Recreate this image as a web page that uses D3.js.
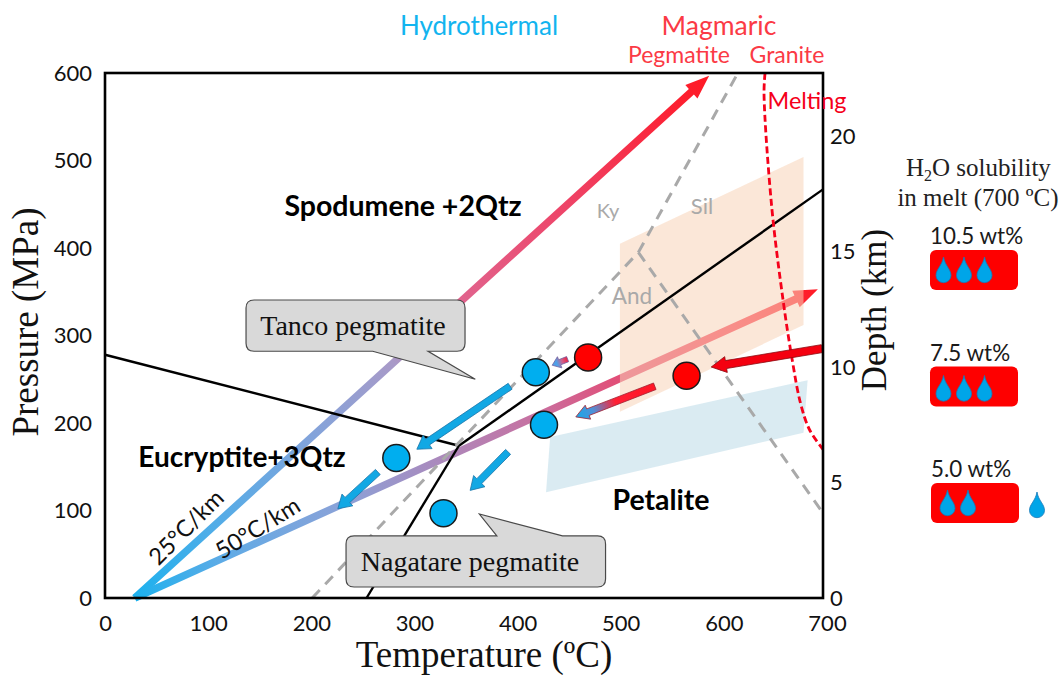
<!DOCTYPE html>
<html><head><meta charset="utf-8">
<script src="https://cdnjs.cloudflare.com/ajax/libs/d3/7.8.5/d3.min.js"></script>
<style>html,body{margin:0;padding:0;background:#fff}svg{display:block}</style>
</head><body><svg id="c" width="1062" height="675"></svg>
<script>
// --- data (temperature ºC, pressure MPa) ---
const tempTicks = [0,100,200,300,400,500,600,700];
const pressTicks = [0,100,200,300,400,500,600];
const depthTicks = [0,5,10,15,20];
const gradient25 = [[29,0],[589,597]];
const gradient50 = [[29,0],[695,353]];
const phaseLeft = [[0,278],[345,174]];
const phaseRight = [[345,174],[700,467]];
const phaseDown = [[345,174],[255,0]];
const kyAnd = [[202,0],[520,395]];
const kySil = [[520,395],[617,600]];
const silAnd = [[520,395],[700,97]];
const melting = [[643.5,600],[642.5,577],[650,447],[661,341],[670,272],[678,223],[687,192],[700,170]];
const orangeZone = [[502,405],[681,504],[681,312],[502,213]];
const blueZone = [[434,184],[685,249],[681,189],[430,121]];
const blueDots = [[420,258],[428,198],[284,160],[330,97]];
const redDots = [[471,275],[567,254]];
const blueArrows = [[[395,242],[304,170]],[[266,144],[227,102]],[[393,167],[356,123]]];
const mixedArrowSmall = [[451,273],[436,266]];
const mixedArrowLarge = [[536,242],[459,207]];
const redArrow = [[699,285],[591,264]];
const tancoBox = [137.5,351,340.6,282], tancoPointer = [[261,282],[361,250],[315,282]];
const nagaBox = [235,488,71,12.6], nagaPointer = [[382,71],[365,96],[446,71]];
const solubility = ["10.5 wt%","7.5 wt%","5.0 wt%"];
const dropsInMelt = [3,3,2];
const dropsOut = [0,0,1];

const svg = d3.select("#c");
const L=105,R=823,T=73,B=598;
const x = d3.scaleLinear().domain([0,700]).range([L,R]);
const y = d3.scaleLinear().domain([0,600]).range([B,T]);
const xLabel = d3.scaleLinear().domain([0,700]).range([L,827]);
const yDepth = d3.scaleLinear().domain([0,22.73]).range([B,T]);
const SANS = "Lato, Carlito, sans-serif", SERIF = "'Liberation Serif', serif";
const px = d => [x(d[0]),y(d[1])];
const line = d3.line().x(d=>x(d[0])).y(d=>y(d[1]));
const defs = svg.append("defs");
let gid=0;
function grad(p0,p1,stops){
  const id="g"+(gid++);
  const g=defs.append("linearGradient").attr("id",id).attr("gradientUnits","userSpaceOnUse")
    .attr("x1",p0[0]).attr("y1",p0[1]).attr("x2",p1[0]).attr("y2",p1[1]);
  stops.forEach(s=>g.append("stop").attr("offset",s[0]).attr("stop-color",s[1]));
  return `url(#${id})`;
}
function arrowPts(a,b,sw,hl,hw){
  const dx=b[0]-a[0],dy=b[1]-a[1],l=Math.hypot(dx,dy),ux=dx/l,uy=dy/l,nx=-uy,ny=ux;
  const bx=b[0]-ux*hl,by=b[1]-uy*hl;
  return [[a[0]+nx*sw/2,a[1]+ny*sw/2],[bx+nx*sw/2,by+ny*sw/2],[bx+nx*hw/2,by+ny*hw/2],b,
          [bx-nx*hw/2,by-ny*hw/2],[bx-nx*sw/2,by-ny*sw/2],[a[0]-nx*sw/2,a[1]-ny*sw/2]];
}
function arrow(seg,sw,hl,hw,fill,stroke){
  svg.append("polygon").attr("points",arrowPts(px(seg[0]),px(seg[1]),sw,hl,hw).map(p=>p.join(",")).join(" "))
    .attr("fill",fill).attr("stroke",stroke||"none").attr("stroke-width",stroke?0.8:0);
}
const stops25=[[0,"#1cb1ee"],[.13,"#4fade8"],[.3,"#80a4dc"],[.45,"#a89ac8"],[.56,"#e0658f"],[.75,"#ee4468"],[.92,"#fb2438"],[1,"#ff1a25"]];
const stops50=[[0,"#1cb1ee"],[.13,"#5fabe6"],[.3,"#8aa2d8"],[.47,"#b085b8"],[.59,"#c870a0"],[.7,"#e0507a"],[.88,"#f93a50"],[1,"#ff1a25"]];
arrow(gradient25,7.5,24,18,grad(px(gradient25[0]),px(gradient25[1]),stops25));
arrow(gradient50,7.5,24,18,grad(px(gradient50[0]),px(gradient50[1]),stops50));

// zones
const poly=(d,f,o)=>svg.append("polygon").attr("points",d.map(p=>px(p).join(",")).join(" ")).attr("fill",f).attr("opacity",o);
poly(blueZone,"#d6e9f1",.9);
poly(orangeZone,"#f8d4b8",.55);

// boundaries
[phaseLeft,phaseRight,phaseDown].forEach(d=>svg.append("path").attr("d",line(d)).attr("fill","none").attr("stroke","#000").attr("stroke-width",2.4));
[kyAnd,kySil,silAnd].forEach(d=>svg.append("path").attr("d",line(d)).attr("fill","none").attr("stroke","#a9a9a9").attr("stroke-width",3).attr("stroke-dasharray","11,8"));
svg.append("path").attr("d",line.curve(d3.curveCatmullRom)(melting)).attr("fill","none").attr("stroke","#f5001a").attr("stroke-width",2.8).attr("stroke-dasharray","7,3.5");
line.curve(d3.curveLinear);

// arrows
blueArrows.forEach(a=>arrow(a,7,13,16,"#12a8e4","#1c75a8"));
const mix=(a,stops)=>grad(px(a[0]),px(a[1]),stops);
arrow(mixedArrowSmall,5.5,8,12,mix(mixedArrowSmall,[[0,"#f02040"],[.35,"#d0608a"],[.7,"#4fa0e8"],[1,"#4fa0e8"]]),"#7060a0");
arrow(mixedArrowLarge,7,13,15,mix(mixedArrowLarge,[[0,"#ff1525"],[.5,"#ff2035"],[.78,"#5090d8"],[1,"#18a8e8"]]),"#a02030");
arrow(redArrow,8,15,16,"#f40010","#8a0a10");

// dots
svg.selectAll(".bd").data(blueDots).join("circle").attr("cx",d=>x(d[0])).attr("cy",d=>y(d[1])).attr("r",13.5).attr("fill","#00aeef").attr("stroke","#1a1a1a").attr("stroke-width",1.5);
svg.selectAll(".rd").data(redDots).join("circle").attr("cx",d=>x(d[0])).attr("cy",d=>y(d[1])).attr("r",13.5).attr("fill","#ff0000").attr("stroke","#1a1a1a").attr("stroke-width",1.5);

// callouts
function callout(b,ptr,label,tx,ty,fs){
  const x0=x(b[0]),x1=x(b[1]),y0=y(b[2]),y1=y(b[3]),r=8;
  const p=ptr.map(px);
  const top=p[0][1]===y0;
  let d=`M${x0+r},${y0}`;
  if(top) d+=`L${p[0][0]},${y0}L${p[1][0]},${p[1][1]}L${p[2][0]},${y0}`;
  d+=`L${x1-r},${y0}Q${x1},${y0} ${x1},${y0+r}L${x1},${y1-r}Q${x1},${y1} ${x1-r},${y1}`;
  if(!top) d+=`L${p[2][0]},${y1}L${p[1][0]},${p[1][1]}L${p[0][0]},${y1}`;
  d+=`L${x0+r},${y1}Q${x0},${y1} ${x0},${y1-r}L${x0},${y0+r}Q${x0},${y0} ${x0+r},${y0}Z`;
  svg.append("path").attr("d",d).attr("fill","#d9d9d9").attr("stroke","#4a4a4a").attr("stroke-width",1.2);
  txt(label,tx,ty,{f:SERIF,s:fs,c:"#111"});
}
function txt(t,xx,yy,o={}){
  const e=svg.append("text").attr("x",xx).attr("y",yy).text(t)
   .attr("font-family",o.f||SANS).attr("font-size",o.s||19).attr("fill",o.c||"#111")
   .attr("text-anchor",o.a||"middle").attr("font-weight",o.w||"normal");
  if(o.r!==undefined) e.attr("transform",`rotate(${o.r} ${xx} ${yy})`);
  return e;
}
callout(tancoBox,tancoPointer,"Tanco pegmatite",353,335,28);
callout(nagaBox,nagaPointer,"Nagatare pegmatite",470,571,28);

// frame
svg.append("rect").attr("x",L).attr("y",T).attr("width",R-L).attr("height",B-T).attr("fill","none").attr("stroke","#000").attr("stroke-width",2.6);

// axes
const styleAxis=g=>{g.select(".domain").remove();g.selectAll("line").remove();
  g.selectAll("text").attr("font-family",SANS).attr("font-size",22).attr("fill","#111");};
svg.append("g").attr("transform",`translate(0,${B+11})`)
  .call(d3.axisBottom(xLabel).tickValues(tempTicks).tickSize(0).tickPadding(6)).call(styleAxis);
svg.append("g").attr("transform",`translate(${L-13},0)`)
  .call(d3.axisLeft(y).tickValues(pressTicks).tickSize(0).tickPadding(0)).call(styleAxis);
svg.append("g").attr("transform",`translate(${R+7},0)`)
  .call(d3.axisRight(yDepth).tickValues(depthTicks).tickSize(0).tickPadding(0)).call(styleAxis);

// axis titles
txt("Temperature (ºC)",484,667,{f:SERIF,s:37});
txt("Pressure (MPa)",38,322,{f:SERIF,s:37,r:-90});
txt("Depth (km)",886,310,{f:SERIF,s:35,r:-90});

// labels
txt("Spodumene +2Qtz",403,216,{s:28.5,w:"bold",c:"#000"});
txt("Eucryptite+3Qtz",242,467,{s:28,w:"bold",c:"#000"});
txt("Petalite",661,510,{s:28.5,w:"bold",c:"#000"});
txt("25°C/km",192,533,{s:23.5,r:-45});
txt("50°C/km",262,535,{s:23.5,r:-32});
txt("Ky",608,218,{s:20,c:"#a9a9a9"});
txt("Sil",702,214,{s:22,c:"#a9a9a9"});
txt("And",632,304,{s:22.5,c:"#a9a9a9"});
txt("Hydrothermal",479,35,{s:26,c:"#12b4ef"});
txt("Magmaric",719,35,{s:26.5,c:"#fb3a45"});
txt("Pegmatite",679,63,{s:23,c:"#fb3a45"});
txt("Granite",787,63,{s:23,c:"#fb3a45"});
txt("Melting",807,109,{s:23.4,c:"#f5001a"});

// H2O legend
const h=txt("H",906,176,{f:SERIF,s:25,a:"start",c:"#222"});
h.append("tspan").text("2").attr("font-size",16).attr("dy",5);
h.append("tspan").text("O solubility").attr("dy",-5);
txt("in melt (700 ºC)",978,206,{f:SERIF,s:25,c:"#222"});

const legendTop=d3.scalePoint().domain(solubility).range([250,483]);
const dropPath=(cx,top)=>{const w=7.5,hh=26;return `M${cx},${top}C${cx+1.5},${top+9} ${cx+w},${top+12} ${cx+w},${top+hh-7.5}A${w} ${w-.3} 0 1 1 ${cx-w},${top+hh-7.5}C${cx-w},${top+12} ${cx-1.5},${top+9} ${cx},${top}Z`;};
solubility.forEach((s,i)=>{
  const t=legendTop(s), x0=930+(i===2?1:0);
  txt(s,x0,t-6,{s:22.4,a:"start",c:"#1a1a1a"});
  svg.append("rect").attr("x",x0).attr("y",t).attr("width",88).attr("height",40).attr("rx",6).attr("fill","#fe0000");
  d3.range(dropsInMelt[i]).forEach(k=>{
    svg.append("path").attr("d",dropPath(x0+13.5+(i===2?3:0)+k*20.5,t+(i===0?7:i===1?9:7))).attr("fill","#00a5e8").attr("stroke","#1878b8").attr("stroke-width",.8);
  });
  d3.range(dropsOut[i]).forEach(()=>{
    svg.append("path").attr("d",dropPath(1037,t+9)).attr("fill","#00a5e8").attr("stroke","#1878b8").attr("stroke-width",.8);
  });
});
</script></body></html>
